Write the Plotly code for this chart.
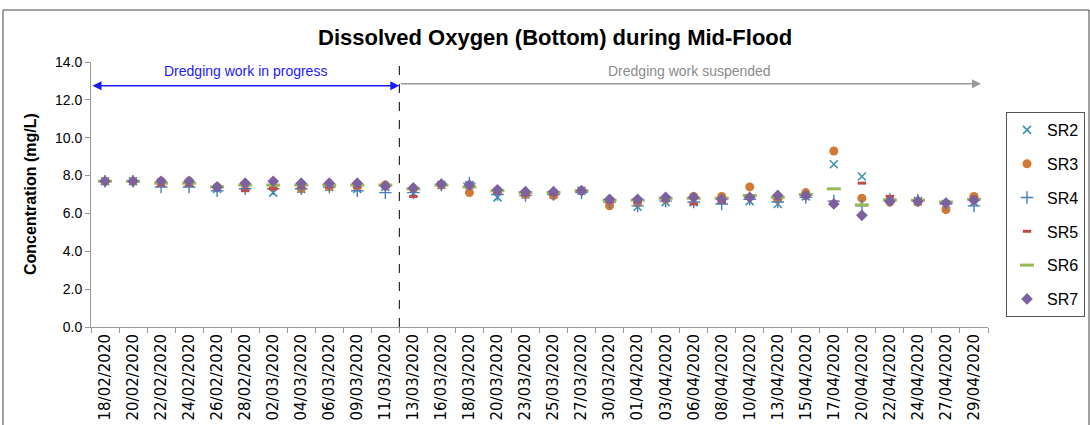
import plotly.graph_objects as go

dates = ["18/02/2020", "20/02/2020", "22/02/2020", "24/02/2020", "26/02/2020", "28/02/2020",
         "02/03/2020", "04/03/2020", "06/03/2020", "09/03/2020", "11/03/2020", "13/03/2020",
         "16/03/2020", "18/03/2020", "20/03/2020", "23/03/2020", "25/03/2020", "27/03/2020",
         "30/03/2020", "01/04/2020", "03/04/2020", "06/04/2020", "08/04/2020", "10/04/2020",
         "13/04/2020", "15/04/2020", "17/04/2020", "20/04/2020", "22/04/2020", "24/04/2020",
         "27/04/2020", "29/04/2020"]

sr2 = [7.7, 7.7, 7.6, 7.6, 7.3, 7.4, 7.1, 7.3, 7.4, 7.3, 7.4, 7.05, 7.5, 7.5, 6.85, 7.0,
       7.0, 7.2, 6.6, 6.35, 6.6, 6.6, 6.7, 6.65, 6.5, 6.9, 8.6, 7.95, 6.75, 6.65, 6.5, 6.6]
sr3 = [7.7, 7.7, 7.7, 7.7, 7.4, 7.5, 7.4, 7.3, 7.4, 7.4, 7.5, 7.3, 7.5, 7.1, 7.2, 7.0,
       6.95, 7.2, 6.4, 6.55, 6.75, 6.9, 6.9, 7.4, 6.75, 7.1, 9.3, 6.8, 6.6, 6.6, 6.2, 6.9]
sr4 = [7.7, 7.7, 7.4, 7.4, 7.2, 7.3, 7.3, 7.3, 7.4, 7.2, 7.1, 7.1, 7.5, 7.6, 7.0, 6.95,
       7.0, 7.1, 6.6, 6.4, 6.65, 6.6, 6.5, 6.75, 6.6, 6.85, 6.65, 6.4, 6.75, 6.7, 6.5, 6.4]
sr5 = [7.7, 7.7, 7.5, 7.5, 7.35, 7.2, 7.3, 7.4, 7.4, 7.4, 7.4, 6.9, 7.5, 7.4, 7.1, 7.0,
       7.0, 7.2, 6.6, 6.6, 6.75, 6.5, 6.6, 6.85, 6.8, 6.9, 6.6, 7.6, 6.9, 6.7, 6.55, 6.85]
sr6 = [7.7, 7.7, 7.6, 7.6, 7.4, 7.5, 7.5, 7.5, 7.5, 7.5, 7.5, 7.3, 7.5, 7.4, 7.2, 7.1,
       7.1, 7.2, 6.7, 6.7, 6.8, 6.8, 6.8, 6.95, 6.85, 7.0, 7.3, 6.45, 6.7, 6.7, 6.6, 6.75]
sr7 = [7.7, 7.7, 7.7, 7.7, 7.4, 7.6, 7.7, 7.6, 7.6, 7.6, 7.45, 7.35, 7.55, 7.5, 7.25, 7.15,
       7.15, 7.2, 6.75, 6.75, 6.85, 6.85, 6.75, 6.85, 6.95, 6.95, 6.5, 5.9, 6.65, 6.65, 6.55, 6.7]

series_names = ["SR2", "SR3", "SR4", "SR5", "SR6", "SR7"]
series_values = [sr2, sr3, sr4, sr5, sr6, sr7]

phase_labels = ["Dredging work in progress", "Dredging work suspended"]
split_index = 10.5   # between 11/03/2020 and 13/03/2020
arrow_level = 12.75
title_text = "Dissolved Oxygen (Bottom) during Mid-Flood"
y_title = "Concentration (mg/L)"

styles = {
    "SR2": dict(symbol="x-thin", size=8, color="#3d93ad", line=dict(width=1.6, color="#3d93ad")),
    "SR3": dict(symbol="circle", size=9, color="#d27a34", line=dict(width=0)),
    "SR4": dict(symbol="cross-thin", size=9, color="#4a7ebb", line=dict(width=1.4, color="#4a7ebb")),
    "SR5": dict(symbol="line-ew", size=6, color="#be4b48", line=dict(width=3, color="#be4b48")),
    "SR6": dict(symbol="line-ew", size=10, color="#98b954", line=dict(width=3, color="#98b954")),
    "SR7": dict(symbol="diamond", size=9, color="#7d60a0", line=dict(width=0)),
}

fig = go.Figure()
for name, vals in zip(series_names, series_values):
    fig.add_trace(go.Scatter(
        x=dates, y=vals, mode="markers", name=name, legendgroup=name,
        marker=styles[name],
    ))

font_main = "Liberation Sans"

# plot-area geometry in pixels
W, H = 1090, 425
L, R, T, B = 91, 988, 62, 327
pw, ph = R - L, B - T

def px_x(p):
    return (p - L) / pw

def px_y(p):
    return (B - p) / ph

fig.update_layout(
    width=W, height=H,
    margin=dict(l=L, r=W - R, t=T, b=H - B, autoexpand=False),
    paper_bgcolor="white", plot_bgcolor="white",
    showlegend=True,
    legend=dict(
        x=px_x(1006), y=px_y(112), xanchor="left", yanchor="top",
        bordercolor="#555555", borderwidth=1,
        font=dict(family=font_main, size=16, color="black"),
        tracegroupgap=10,
    ),
    font=dict(family=font_main, color="black"),
)

fig.update_xaxes(
    type="category", range=[-0.5, len(dates) - 0.5],
    showgrid=False, showline=True, linecolor="#9a9a9a", linewidth=1,
    ticks="outside", tickson="boundaries", ticklen=5, tickcolor="#9a9a9a",
    tickangle=-90, tickfont=dict(family="DejaVu Sans", size=15, color="black"),
    zeroline=False, automargin=False,
)
fig.update_yaxes(
    range=[0, 14], dtick=2, tickformat=".1f",
    showgrid=False, showline=True, linecolor="#9a9a9a", linewidth=1,
    ticks="outside", ticklen=5, tickcolor="#9a9a9a",
    tickfont=dict(family=font_main, size=14, color="black"),
    zeroline=False, automargin=False,
)

# title
fig.add_annotation(
    text="<b>" + title_text + "</b>", xref="paper", yref="paper",
    x=px_x(555), y=px_y(37), xanchor="center", yanchor="middle", showarrow=False,
    font=dict(family=font_main, size=22, color="black"),
)
# y axis title
fig.add_annotation(
    text="<b>" + y_title + "</b>", xref="paper", yref="paper",
    x=px_x(30), y=px_y(194), xanchor="center", yanchor="middle",
    textangle=-90, showarrow=False,
    font=dict(family=font_main, size=16, color="black"),
)

# dashed split line
fig.add_shape(type="line", xref="x", yref="paper", x0=split_index, x1=split_index,
              y0=0, y1=1, line=dict(color="black", width=1, dash="dash"))

# arrows
fig.add_annotation(
    x=split_index, y=arrow_level, ax=-0.5, ay=arrow_level, xref="x", yref="y",
    axref="x", ayref="y", text="", showarrow=True, arrowhead=2, arrowside="end+start",
    arrowsize=1.2, arrowwidth=1.5, arrowcolor="#1a1aff",
)
fig.add_annotation(
    x=31.25, y=arrow_level + 0.1, ax=split_index, ay=arrow_level + 0.1, xref="x", yref="y",
    axref="x", ayref="y", text="", showarrow=True, arrowhead=2, arrowside="end",
    arrowsize=1.2, arrowwidth=1.5, arrowcolor="#9a9a9a",
)
fig.add_annotation(
    x=5, y=13.5, xref="x", yref="y", text=phase_labels[0], showarrow=False,
    xanchor="center", yanchor="middle",
    font=dict(family=font_main, size=14, color="#1a1aff"),
)
fig.add_annotation(
    x=20.85, y=13.5, xref="x", yref="y", text=phase_labels[1], showarrow=False,
    xanchor="center", yanchor="middle",
    font=dict(family=font_main, size=14, color="#8c8c8c"),
)

# chart border
fig.add_shape(type="rect", xref="paper", yref="paper",
              x0=px_x(3), x1=px_x(1089), y0=px_y(432), y1=px_y(10),
              line=dict(color="#444444", width=1), fillcolor="rgba(0,0,0,0)", layer="below")

fig.write_html(
    "out.html",
    config={"displayModeBar": False},
    post_script="document.body.style.margin='0px';document.body.style.overflow='hidden';",
)
